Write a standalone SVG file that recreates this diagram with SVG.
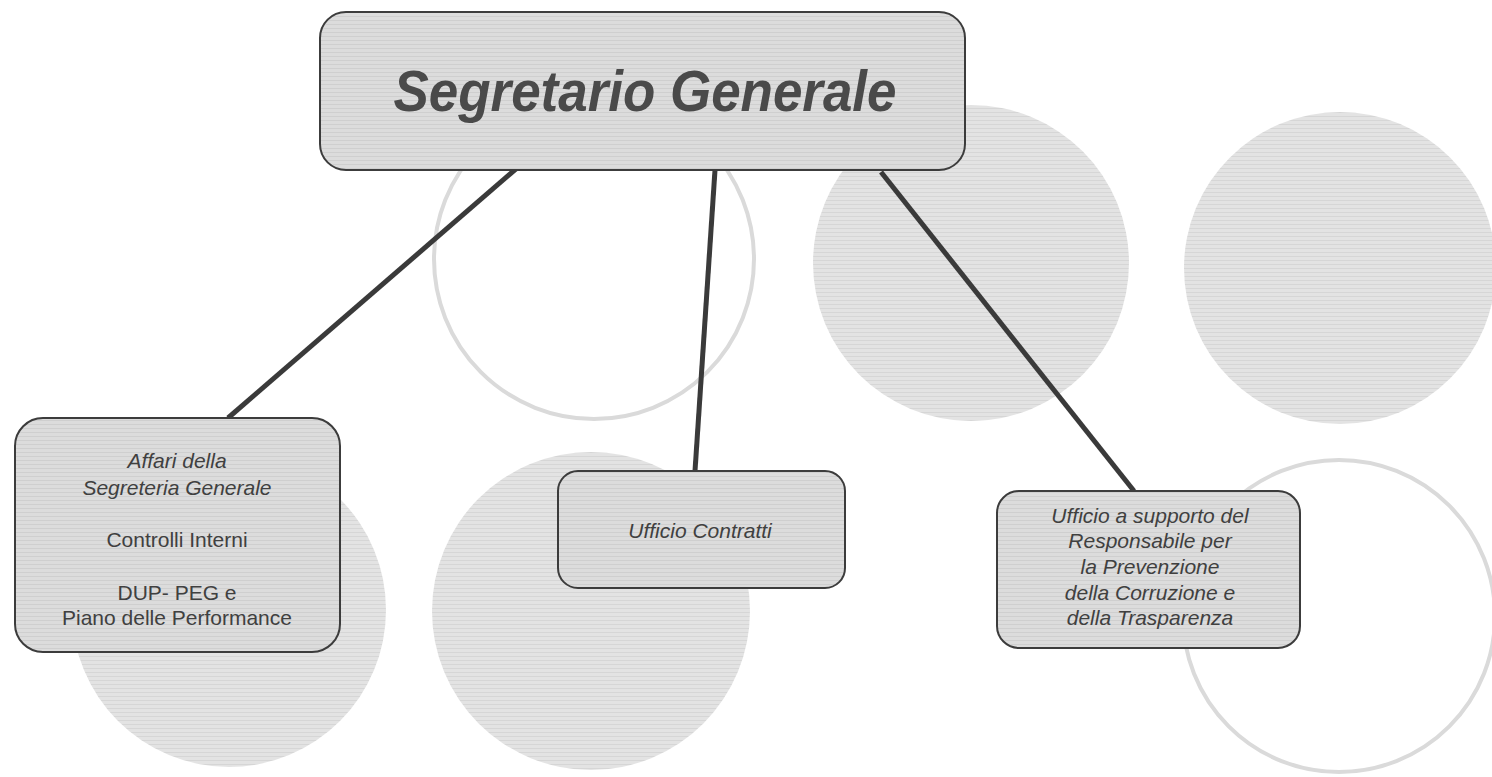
<svg xmlns="http://www.w3.org/2000/svg" width="1492" height="777" viewBox="0 0 1492 777">
<defs>
<pattern id="stripes" width="8" height="4" patternUnits="userSpaceOnUse">
<rect width="8" height="4" fill="#e3e3e3"/>
<rect y="0" width="8" height="1" fill="#d6d6d6"/>
</pattern>
<pattern id="boxstripes" width="8" height="4" patternUnits="userSpaceOnUse">
<rect width="8" height="4" fill="#dcdcdc"/>
<rect y="0" width="8" height="1" fill="#cfcfcf"/>
</pattern>
<style>
.disc{fill:url(#stripes);stroke:none}
.ring{fill:none;stroke:#dadada;stroke-width:4}
.box{fill:url(#boxstripes);stroke:#3c3c3c;stroke-width:2}
.conn{stroke:#3a3a3a;stroke-width:5;stroke-linecap:butt;fill:none}
.t{font-family:"Liberation Sans",Arial,sans-serif;fill:#404040;text-anchor:middle}
.it{font-style:italic}
.title{font-size:57px;font-weight:bold;font-style:italic;fill:#4a4a4a}
.s{font-size:21px}
</style>
</defs>
<rect width="1492" height="777" fill="#ffffff"/>
<g id="background">
<circle class="ring" cx="594" cy="259" r="160"/>
<circle class="disc" cx="971" cy="263" r="158"/>
<circle class="disc" cx="1340" cy="268" r="156"/>
<circle class="disc" cx="229" cy="610" r="157"/>
<circle class="disc" cx="591" cy="611" r="159"/>
<circle class="ring" cx="1339" cy="616" r="156"/>
</g>
<g id="connectors">
<line class="conn" x1="517" y1="168" x2="228" y2="418"/>
<line class="conn" x1="715" y1="170" x2="695" y2="471"/>
<line class="conn" x1="881" y1="172" x2="1134" y2="491"/>
</g>
<g id="segretario">
<rect class="box" x="320" y="12" width="645" height="158" rx="26"/>
<text class="t title" x="645" y="111" textLength="503" lengthAdjust="spacingAndGlyphs">Segretario Generale</text>
</g>
<g id="affari">
<rect class="box" x="15" y="418" width="325" height="234" rx="28"/>
<text class="t s it" x="177" y="468">Affari della</text>
<text class="t s it" x="177" y="495">Segreteria Generale</text>
<text class="t s" x="177" y="547">Controlli Interni</text>
<text class="t s" x="177" y="600">DUP- PEG e</text>
<text class="t s" x="177" y="625">Piano delle Performance</text>
</g>
<g id="contratti">
<rect class="box" x="558" y="471" width="287" height="117" rx="20"/>
<text class="t s it" x="700" y="538">Ufficio Contratti</text>
</g>
<g id="anticorruzione">
<rect class="box" x="997" y="491" width="303" height="157" rx="22"/>
<text class="t s it" x="1150" y="523">Ufficio a supporto del</text>
<text class="t s it" x="1150" y="548">Responsabile per</text>
<text class="t s it" x="1150" y="574">la Prevenzione</text>
<text class="t s it" x="1150" y="600">della Corruzione e</text>
<text class="t s it" x="1150" y="625">della Trasparenza</text>
</g>
</svg>
